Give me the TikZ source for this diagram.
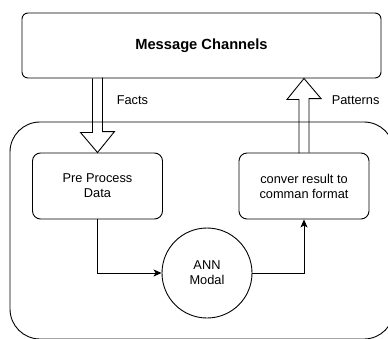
\documentclass[tikz,border=0pt]{standalone}
\usepackage{fontspec}
\setmainfont{Liberation Sans}
\usetikzlibrary{arrows.meta,calc}

\begin{document}
\begin{tikzpicture}[x=1pt,y=-1pt,line width=0.9pt,
    box/.style={draw,rounded corners=8pt,minimum width=130pt,minimum height=66pt,align=center,
      font=\fontsize{12.8}{15}\selectfont},
    modal/.style={draw,circle,minimum size=90pt,inner sep=0pt,align=center,
      font=\fontsize{12.8}{15}\selectfont},
    lbl/.style={anchor=west,font=\fontsize{12.8}{15}\selectfont},
    flow/.style={-{Stealth[length=8pt,width=7pt,inset=2pt]}},
    hollow/.style={draw,line join=miter}]
                \useasboundingbox (0,0) rectangle (388,338);
                \clip (0,0) rectangle (388,338);
                % outer frame, cut off at the right and bottom
                \draw[rounded corners=30pt] (10,122) rectangle (394,339);

                \node[draw,rounded corners=6pt,minimum width=359pt,minimum height=65pt,
                    font=\bfseries\fontsize{14.7}{17}\selectfont] (msg) at (201.5,45.5) {Message Channels};
                \node[box] (pre) at (97.5,186) {Pre Process\\Data};
                \node[box] (conv) at (304,186) {conver result to\\comman format};
                \node[modal] (ann) at (207,273) {ANN\\Modal};
                \node[lbl] (facts) at (113,100) {Facts};
                \node[lbl] (patterns) at (328,100) {Patterns};

                % wide arrows in and out
                \draw[hollow] ($(msg.south -| pre.north)+(-5,0)$) -- ++(0,54) -- ++(-12,0) -- (pre.north)
                    -- ++(17,-21) -- ++(-12,0) -- ++(0,-54);
                \draw[hollow] ($(conv.north)+(5,0)$) -- ++(0,-54) -- ++(12,0) -- (msg.south -| conv.north)
                    -- ++(-17,21) -- ++(12,0) -- ++(0,54);

                \draw[flow] (pre.south) |- (ann.west);
                \draw[flow] (ann.east) -| (conv.south);
            \end{tikzpicture}
\end{document}
